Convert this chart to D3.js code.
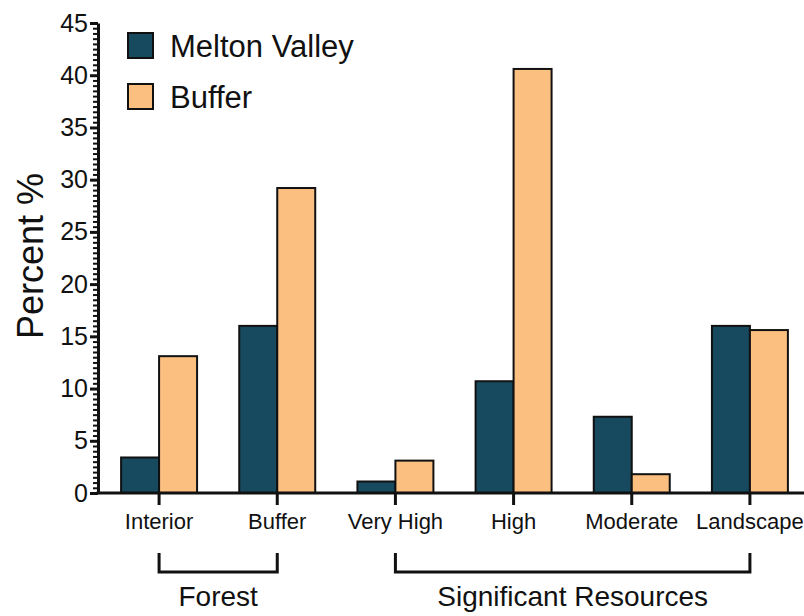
<!DOCTYPE html>
<html>
<head>
<script src="https://d3js.org/d3.v7.min.js"></script>
<style>
  body { margin: 0; background: #fff; }
  svg { font-family: Arial, "Liberation Sans", Helvetica, sans-serif; }
</style>
</head>
<body>
<div id="chart"></div>
<script>
var categories = ["Interior", "Buffer", "Very High", "High", "Moderate", "Landscape"];
var series = ["Melton Valley", "Buffer"];
var meltonValley = [3.4, 16.0, 1.1, 10.7, 7.3, 16.0];
var buffer = [13.1, 29.2, 3.1, 40.6, 1.8, 15.6];
var yTicks = [0, 5, 10, 15, 20, 25, 30, 35, 40, 45];
var groups = [
  { name: "Forest", from: "Interior", to: "Buffer" },
  { name: "Significant Resources", from: "Very High", to: "Landscape" }
];
var colors = ["#174a5f", "#fbbf80"];

var width = 804, height = 616;

var svg = d3.select("#chart").append("svg")
  .attr("width", width).attr("height", height);

var x = d3.scaleBand().domain(categories).range([100, 809])
  .paddingInner(0.357).paddingOuter(0.1785);
var xs = d3.scaleBand().domain(series).range([0, x.bandwidth()]);
var y = d3.scaleLinear().domain([0, 45]).range([493, 23]);

var rows = categories.map(function (c, i) {
  return { cat: c, values: [meltonValley[i], buffer[i]] };
});

// bars
var g = svg.selectAll(".grp").data(rows).enter().append("g")
  .attr("transform", function (d) { return "translate(" + x(d.cat) + ",0)"; });

g.selectAll("rect").data(function (d) {
  return d.values.map(function (v, i) { return { s: series[i], v: v, i: i }; });
}).enter().append("rect")
  .attr("x", function (d) { return xs(d.s); })
  .attr("y", function (d) { return y(d.v); })
  .attr("width", xs.bandwidth())
  .attr("height", function (d) { return y(0) - y(d.v); })
  .attr("fill", function (d) { return colors[d.i]; })
  .attr("stroke", "#111")
  .attr("stroke-width", 2);

// y minor ticks every 0.5
var minor = d3.range(0, 45.01, 0.5).filter(function (v) { return v % 5 !== 0; });
svg.append("g").attr("transform", "translate(98,0)")
  .call(d3.axisLeft(y).tickValues(minor).tickSize(5).tickFormat(""))
  .call(function (a) {
    a.select(".domain").remove();
    a.selectAll("line").attr("stroke", "#111").attr("stroke-width", 2);
  });

// y axis
svg.append("g").attr("transform", "translate(98,0)")
  .call(d3.axisLeft(y).tickValues(yTicks).tickSize(8).tickSizeOuter(0).tickPadding(2))
  .call(function (a) {
    a.select(".domain").attr("stroke", "#111").attr("stroke-width", 3);
    a.selectAll("line").attr("stroke", "#111").attr("stroke-width", 3);
    a.selectAll("text").attr("font-size", 25).attr("fill", "#111");
  });

// x axis
svg.append("g").attr("transform", "translate(0,493)")
  .call(d3.axisBottom(x).tickSize(12).tickSizeOuter(0).tickPadding(8))
  .call(function (a) {
    a.select(".domain").attr("d", "M96.5,0H804").attr("stroke", "#111").attr("stroke-width", 3);
    a.selectAll("line").attr("stroke", "#111").attr("stroke-width", 3);
    a.selectAll("text").attr("font-size", 22).attr("fill", "#111");
  });

// group brackets
groups.forEach(function (gr) {
  var x0 = x(gr.from) + x.bandwidth() / 2;
  var x1 = x(gr.to) + x.bandwidth() / 2;
  svg.append("path")
    .attr("d", "M" + x0 + ",553V572H" + x1 + "V553")
    .attr("fill", "none").attr("stroke", "#111").attr("stroke-width", 3);
  svg.append("text")
    .attr("x", (x0 + x1) / 2).attr("y", 606)
    .attr("text-anchor", "middle").attr("font-size", 28).attr("fill", "#111")
    .text(gr.name);
});

// y label
svg.append("text")
  .attr("transform", "translate(43,256) rotate(-90)")
  .attr("text-anchor", "middle").attr("font-size", 36).attr("fill", "#111")
  .text("Percent %");

// legend
var leg = svg.append("g").attr("transform", "translate(128,33)");
var li = leg.selectAll("g").data(series).enter().append("g")
  .attr("transform", function (d, i) { return "translate(0," + i * 51 + ")"; });
li.append("rect").attr("width", 25).attr("height", 25)
  .attr("fill", function (d, i) { return colors[i]; })
  .attr("stroke", "#111").attr("stroke-width", 2);
li.append("text").attr("x", 42).attr("y", 24)
  .attr("font-size", 31).attr("fill", "#111")
  .text(function (d) { return d; });
</script>
</body>
</html>
